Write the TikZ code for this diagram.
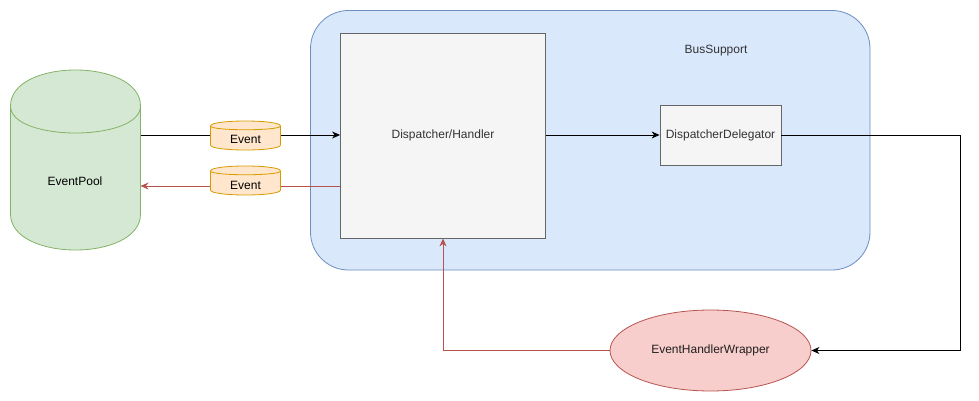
\documentclass[tikz,border=0pt]{standalone}
\usepackage{fontspec}
\setmainfont{Liberation Sans}
\usetikzlibrary{arrows.meta,shapes.geometric}
\definecolor{greenfill}{HTML}{D5E8D4}
\definecolor{greenline}{HTML}{82B366}
\definecolor{orangefill}{HTML}{FFE6CC}
\definecolor{orangeline}{HTML}{D79B00}
\definecolor{bluefill}{HTML}{DAE8FC}
\definecolor{blueline}{HTML}{6C8EBF}
\definecolor{redfill}{HTML}{F8CECC}
\definecolor{redline}{HTML}{B85450}
\definecolor{grayfill}{HTML}{F5F5F5}
\definecolor{grayline}{HTML}{666666}
\definecolor{txtgray}{HTML}{333333}
\newcommand\drawcyl[6]{%
  \path[#6] (#1,#2+#5) .. controls (#1,#2-#5/3) and (#1+#3,#2-#5/3) .. (#1+#3,#2+#5)
    -- (#1+#3,#2+#4-#5) .. controls (#1+#3,#2+#4+#5/3) and (#1,#2+#4+#5/3) .. (#1,#2+#4-#5) -- cycle;
  \draw[#6,fill=none] (#1,#2+#5) .. controls (#1,#2+2*#5) and (#1+#3,#2+2*#5) .. (#1+#3,#2+#5);
}
\tikzset{
  lbl/.style={font=\fontsize{12}{14}\selectfont, inner sep=0pt},
  graybox/.style={draw=grayline, fill=grayfill, line width=0.8pt, text=txtgray, inner sep=0pt,
    font=\fontsize{12}{14}\selectfont},
  conn/.style={line width=0.9pt, -{Stealth[length=8pt,width=7pt,inset=2.5pt]}},
  redconn/.style={conn, draw=redline, color=redline},
  poolcyl/.style={draw=greenline, fill=greenfill, line width=0.8pt},
  evcyl/.style={draw=orangeline, fill=orangefill, line width=0.8pt},
}
\begin{document}
\begin{tikzpicture}[x=1pt,y=-1pt]
\useasboundingbox (0,0) rectangle (979,401);
% container
\draw[draw=blueline, fill=bluefill, line width=0.8pt, rounded corners=38pt] (310.5,10.5) rectangle (870,270);
\node[lbl, text=txtgray] (bus) at (716,51) {BusSupport};
% EventPool cylinder
\drawcyl{10.5}{70}{130}{180}{36}{poolcyl}
\node[lbl] (pool) at (75,181) {EventPool};
\coordinate (poolin) at (140.5,186);
\coordinate (poolout) at (140.5,135);
% boxes
\node[graybox, minimum width=205pt, minimum height=205pt] (disp) at (443,135.5) {Dispatcher/Handler};
\node[graybox, minimum width=121pt, minimum height=60pt] (dd) at (720.5,135) {DispatcherDelegator};
\node[ellipse, draw=redline, fill=redfill, line width=0.8pt, minimum width=201pt, minimum height=81pt,
  inner sep=0pt, font=\fontsize{12}{14}\selectfont, text=txtgray!60!black] (ehw) at (710.5,350.5) {EventHandlerWrapper};
\coordinate (turn) at (960.5,350.5);
% connectors
\draw[conn] (poolout) -- (poolout -| disp.west);
\draw[redconn] (poolin -| disp.west) -- (poolin);
\draw[conn] (disp.east |- dd.west) -- (dd.west);
\draw[conn] (dd.east) -- (dd.east -| turn) -- (turn) -- (ehw.east);
\draw[redconn] (ehw.west) -- (ehw.west -| disp.south) -- (disp.south);
% Event cylinders
\drawcyl{210.5}{121}{70}{29}{5}{evcyl}
\node[lbl] (ev1) at (245.5,139) {Event};
\drawcyl{210.5}{166}{70}{29}{5}{evcyl}
\node[lbl] (ev2) at (245.5,185) {Event};
\end{tikzpicture}
\end{document}
